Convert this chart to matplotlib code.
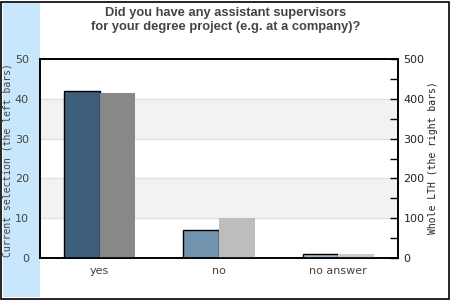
import matplotlib
matplotlib.use("Agg")
import matplotlib.pyplot as plt
from matplotlib.patches import Rectangle
from matplotlib.ticker import MultipleLocator
import numpy as np

categories = ["yes", "no", "no answer"]
current_selection = [42, 7, 1]
whole_lth = [415, 100, 10]
title = "Did you have any assistant supervisors\nfor your degree project (e.g. at a company)?"
left_label = "Current selection (the left bars)"
right_label = "Whole LTH (the right bars)"

left_colors = ["#3e5f7b", "#7293ae", "#a2bdd3"]
right_colors = ["#888888", "#bdbdbd", "#cbcbcb"]

fig = plt.figure(figsize=(4.5, 3), dpi=100)
fig.patch.set_facecolor("white")

# light blue strip and outer border
fig.patches.append(Rectangle((3/450, 3/300), 37/450, 294/300, transform=fig.transFigure,
                             facecolor="#c8e7fc", edgecolor="none", zorder=-1))
fig.patches.append(Rectangle((1/450, 1/300), 447.5/450, 297/300, transform=fig.transFigure,
                             facecolor="none", edgecolor="black", linewidth=1.2, zorder=5))

ax = fig.add_axes([40/450, 1 - 258/300, 358/450, 199/300])
ax.set_facecolor("white")
ax2 = ax.twinx()

x = np.arange(len(categories))
w = 0.30
ax.set_xlim(-0.5, 2.5)
ax.set_ylim(0, 50)
ax2.set_ylim(0, 500)

for lo in (10, 30):
    ax.axhspan(lo, lo + 10, color="#f2f2f2", zorder=0, lw=0)
for v in (10, 20, 30, 40):
    ax.axhline(v, color="#e0e0e0", lw=1, zorder=0.5)

ax.bar(x - w/2, current_selection, width=w, color=left_colors, edgecolor="black",
       linewidth=1, zorder=3)
ax2.bar(x + w/2, whole_lth, width=w, color=right_colors, edgecolor="none",
        linewidth=0, zorder=2)

ax.set_xticks(x)
ax.set_xticklabels(categories, fontsize=8, color="#444444")
ax.tick_params(axis="x", length=0, pad=6)
ax.yaxis.set_major_locator(MultipleLocator(10))
ax.tick_params(axis="y", length=0, labelsize=8, labelcolor="#444444", pad=8)

ax2.yaxis.set_major_locator(MultipleLocator(100))
ax2.yaxis.set_minor_locator(MultipleLocator(50))
ax2.tick_params(axis="y", which="both", direction="in", length=6, width=1,
                labelsize=8, labelcolor="#222222", pad=4)

for a in (ax, ax2):
    for s in a.spines.values():
        s.set_color("black")
        s.set_linewidth(1.2)

fig.text(8/450, 1 - 160/300, left_label, rotation=90, ha="center", va="center",
         family="DejaVu Sans Mono", fontsize=7, color="#444444")
fig.text(433/450, 1 - 158/300, right_label, rotation=90, ha="center", va="center",
         family="DejaVu Sans Mono", fontsize=7, color="#222222")
fig.text(226/450, 1 - 20/300, title, ha="center", va="center",
         family="Liberation Sans", fontweight="bold", fontsize=9.3, color="#444444",
         linespacing=1.15)

fig.savefig("out.png", dpi=100)
